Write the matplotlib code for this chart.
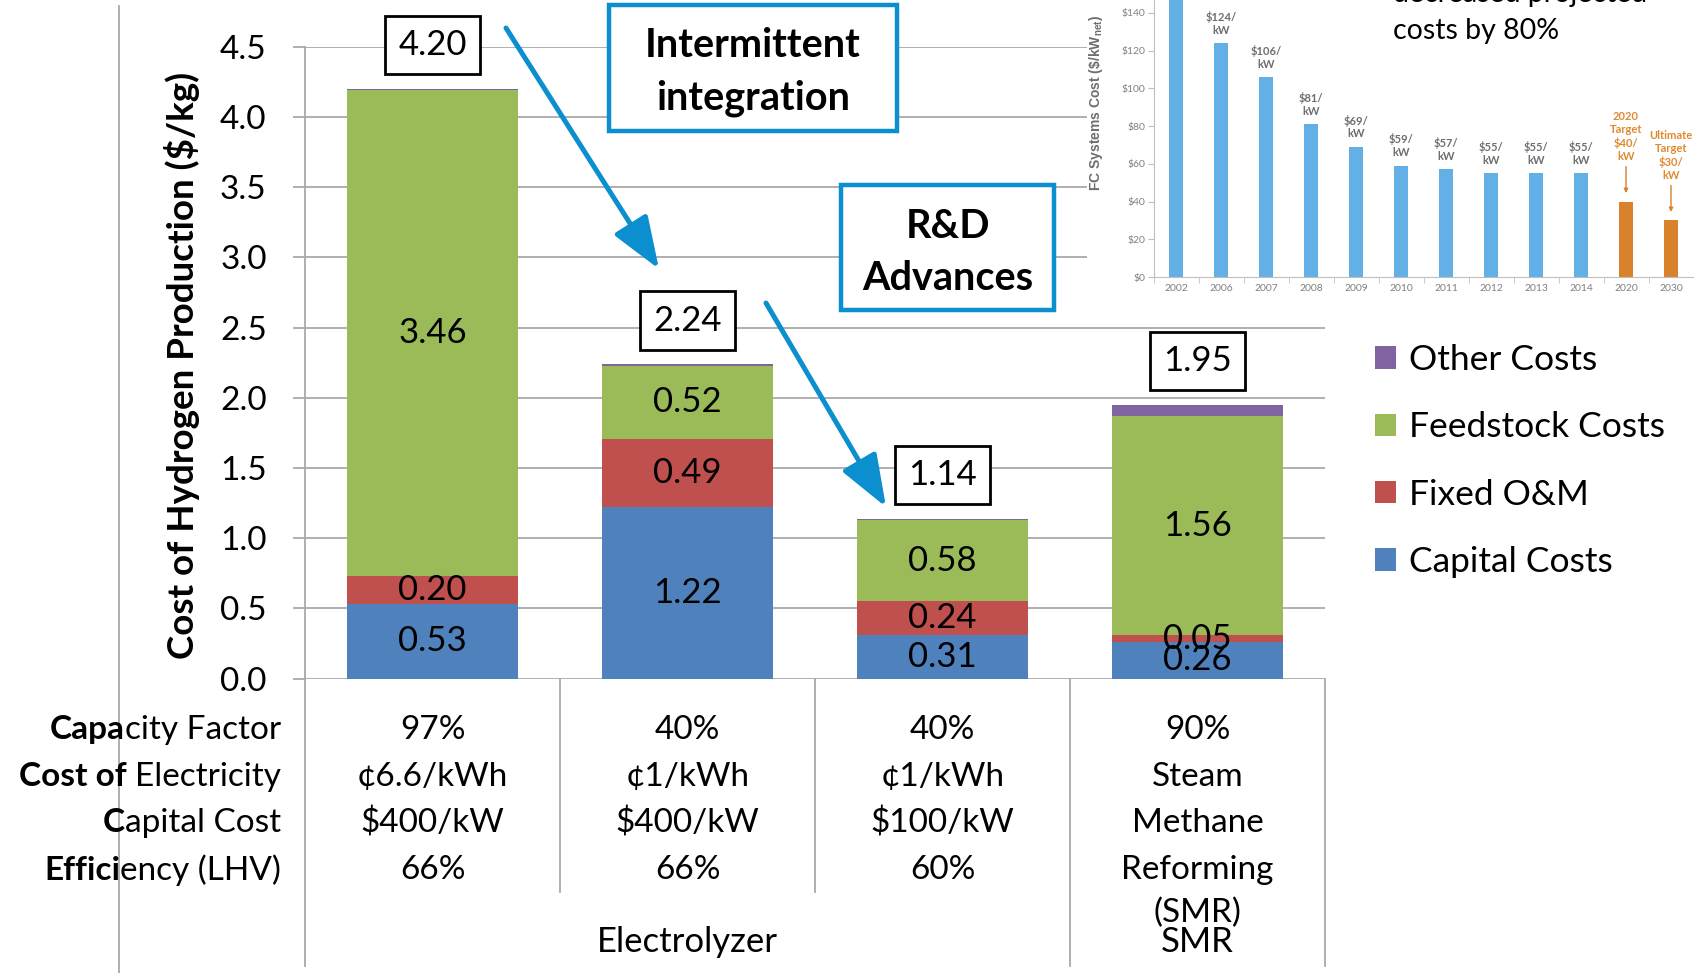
import matplotlib
matplotlib.use('Agg')
import matplotlib.pyplot as plt
from matplotlib.patches import Rectangle, FancyArrowPatch
from matplotlib.transforms import blended_transform_factory
import numpy as np

# main chart data ($/kg)
categories = ['Electrolyzer A', 'Electrolyzer B', 'Electrolyzer C', 'SMR']
capital_costs = [0.53, 1.22, 0.31, 0.26]
fixed_om = [0.20, 0.49, 0.24, 0.05]
feedstock_costs = [3.46, 0.52, 0.58, 1.56]
other_costs = [0.01, 0.01, 0.01, 0.08]
totals = [4.20, 2.24, 1.14, 1.95]

series_names = ['Capital Costs', 'Fixed O&M', 'Feedstock Costs', 'Other Costs']
series_colors = ['#4F81BD', '#C0504D', '#9BBB59', '#8064A2']

# table under the chart: (bold part, regular part)
row_labels = [('Capa', 'city Factor'), ('Cost of ', 'Electricity'),
              ('C', 'apital Cost'), ('Effici', 'ency (LHV)')]
column_values = [['97%', '¢6.6/kWh', '$400/kW', '66%'],
                 ['40%', '¢1/kWh', '$400/kW', '66%'],
                 ['40%', '¢1/kWh', '$100/kW', '60%'],
                 ['90%', 'Steam', 'Methane', 'Reforming', '(SMR)']]
group_labels = ['Electrolyzer', 'SMR']
group_centers = [1.0, 3.0]

# inset: fuel cell system cost ($/kW)
fc_years = ['2002', '2006', '2007', '2008', '2009', '2010', '2011', '2012',
            '2013', '2014', '2020', '2030']
fc_costs = [275, 124, 106, 81, 69, 59, 57, 55, 55, 55, 40, 30]
fc_labels = ['', '$124/\nkW', '$106/\nkW', '$81/\nkW', '$69/\nkW', '$59/\nkW',
             '$57/\nkW', '$55/\nkW', '$55/\nkW', '$55/\nkW',
             '2020\nTarget\n$40/\nkW', 'Ultimate\nTarget\n$30/\nkW']
fc_is_target = [False] * 10 + [True, True]

W, H = 1694, 973
BLUE = '#0B8FCF'
GRID = '#A9A9A9'
FS = 24


def fx(x):
    return x / W


def fy(y):
    return 1 - y / H


plt.rcParams['font.family'] = ['Lato', 'DejaVu Sans']

fig = plt.figure(figsize=(W / 100, H / 100), dpi=100)
ax = fig.add_axes([fx(305), fy(678.7), (1325 - 305) / W, (678.7 - 46.7) / H])

x = np.arange(len(categories))
bar_w = 0.667
stack = [capital_costs, fixed_om, feedstock_costs, other_costs]
bottom = np.zeros(len(x))
handles = []
for vals, name, col in zip(stack, series_names, series_colors):
    b = ax.bar(x, vals, bar_w, bottom=bottom, color=col, label=name, zorder=2)
    handles.append(b)
    if name != 'Other Costs':
        for xi, v, b0 in zip(x, vals, bottom):
            ax.text(xi, b0 + v / 2, f'{v:.2f}', ha='center', va='center',
                    fontsize=25, zorder=3)
    bottom = bottom + np.array(vals)

for xi, t in zip(x, totals):
    ax.text(xi, t + 0.31, f'{t:.2f}', ha='center', va='center', fontsize=25,
            zorder=4, bbox=dict(boxstyle='square,pad=0.38', fc='white',
                                ec='black', lw=2))

ax.set_xlim(-0.5, 3.5)
ax.set_ylim(0, 4.5)
ax.set_yticks(np.arange(0, 4.51, 0.5))
ax.set_yticklabels([f'{v:.1f}' for v in np.arange(0, 4.51, 0.5)])
ax.set_xticks([])
ax.yaxis.grid(True, color=GRID, lw=1.3)
ax.set_axisbelow(True)
for s in ['top', 'right', 'bottom']:
    ax.spines[s].set_visible(False)
ax.spines['left'].set_color(GRID)
ax.spines['left'].set_linewidth(1.3)
ax.tick_params(axis='y', length=8.6, width=1.3, color=GRID, labelsize=FS, pad=19)

fig.text(fx(182), fy(365), 'Cost of Hydrogen Production ($/kg)', rotation=90,
         ha='center', va='center', fontsize=26.5, fontweight='bold')

# legend (reverse order, Other Costs on top)
ax.legend(handles[::-1], series_names[::-1], loc='center left',
          bbox_to_anchor=(fx(1375), fy(461)), bbox_transform=fig.transFigure,
          frameon=False, fontsize=25.5, handlelength=0.6, handleheight=0.6,
          handletextpad=0.35, labelspacing=1.0, borderpad=0, borderaxespad=0)

# category separators below the axis
bt = blended_transform_factory(ax.transData, fig.transFigure)
for xs, yend in zip([-0.5, 0.5, 1.5, 2.5, 3.5], [966, 892, 892, 966, 966]):
    ax.plot([xs, xs], [fy(678.7), fy(yend)], color=GRID, lw=1.3,
            transform=bt, clip_on=False)
fig.add_artist(plt.Line2D([fx(119), fx(119)], [fy(6), 0], color=GRID, lw=1.3))

row_y = [730, 777, 823, 870, 913]
fig.canvas.draw()
renderer = fig.canvas.get_renderer()
inv = fig.transFigure.inverted()
for (bold_part, reg_part), y in zip(row_labels, row_y):
    t = fig.text(fx(281), fy(y), reg_part, ha='right', va='center', fontsize=FS)
    bb = t.get_window_extent(renderer=renderer)
    x0 = inv.transform((bb.x0, 0))[0]
    fig.text(x0, fy(y), bold_part, ha='right', va='center', fontsize=FS,
             fontweight='bold')

for xi, vals in zip(x, column_values):
    for v, y in zip(vals, row_y):
        ax.text(xi, fy(y), v, ha='center', va='center', fontsize=FS,
                transform=bt)
for lab, xc in zip(group_labels, group_centers):
    ax.text(xc, fy(942), lab, ha='center', va='center', fontsize=FS + 1,
            transform=bt)

# call-out boxes and arrows
for (x0, y0, x1, y1), txt, ty in [((609, 5, 897, 131), 'Intermittent\nintegration', 72),
                                   ((841, 185, 1054, 310), 'R&D\nAdvances', 252)]:
    fig.add_artist(Rectangle((fx(x0), fy(y1)), (x1 - x0) / W, (y1 - y0) / H,
                             transform=fig.transFigure, fc='white', ec=BLUE,
                             lw=3.2, zorder=5))
    fig.text(fx((x0 + x1) / 2), fy(ty), txt, ha='center', va='center',
             fontsize=28.5, fontweight='bold', linespacing=1.5, zorder=6)

for (xa, ya), (xb, yb) in [((506, 28), (659, 269)), ((766, 303), (886, 507))]:
    fig.add_artist(FancyArrowPatch((fx(xa), fy(ya)), (fx(xb), fy(yb)),
                                   transform=fig.transFigure,
                                   arrowstyle='-|>,head_length=1.6,head_width=0.6',
                                   mutation_scale=20, color=BLUE, lw=3.6,
                                   shrinkA=0, shrinkB=0, zorder=6))

# inset picture area
fig.add_artist(Rectangle((fx(1087), fy(300)), (W - 1087) / W, 300 / H,
                         transform=fig.transFigure, fc='white', ec='none',
                         zorder=1))
ins = fig.add_axes([fx(1153.5), fy(277), 540 / W, 282.9 / H], zorder=2)
xi_fc = np.arange(len(fc_years))
fc_colors = ['#D9822B' if t else '#62B0E5' for t in fc_is_target]
ins.bar(xi_fc, fc_costs, 0.33, color=fc_colors)
ins.set_xlim(-0.5, len(fc_years) - 0.5)
ins.set_ylim(0, 150)
ins.set_yticks(np.arange(0, 141, 20))
ins.set_yticklabels([f'${v}' for v in range(0, 141, 20)])
ins.set_xticks(xi_fc)
ins.set_xticklabels(fc_years)
ins.set_xticks(np.arange(-0.5, len(fc_years)), minor=True)
ins.tick_params(axis='x', which='major', length=0, labelsize=7.5,
                labelcolor='#808080', pad=5)
ins.tick_params(axis='x', which='minor', length=4, color='#BFBFBF')
ins.tick_params(axis='y', length=4, color='#BFBFBF', labelsize=7.5,
                labelcolor='#808080', pad=2)
for s in ['top', 'right']:
    ins.spines[s].set_visible(False)
for s in ['left', 'bottom']:
    ins.spines[s].set_color('#BFBFBF')
ins.set_facecolor('none')
for xi_, v, lab, tgt in zip(xi_fc, fc_costs, fc_labels, fc_is_target):
    if not lab:
        continue
    if tgt:
        ins.annotate('', xy=(xi_, v + 3), xytext=(xi_, v + 20),
                     arrowprops=dict(arrowstyle='-|>', color='#D9822B', lw=1,
                                     mutation_scale=6))
        ins.text(xi_, v + 21, lab, ha='center', va='bottom', fontsize=8,
                 fontweight='bold', color='#E08A30', linespacing=1.2)
    else:
        ins.text(xi_, v + 4, lab, ha='center', va='bottom', fontsize=8,
                 fontweight='bold', color='#6E6E6E', linespacing=1.2)
fig.text(fx(1096), fy(103), r'FC Systems Cost (\$/kW$_{\mathregular{net}}$)',
         rotation=90, ha='center', va='center', fontsize=10, fontweight='bold',
         color='#6E6E6E', family=['Liberation Sans', 'DejaVu Sans'], zorder=3)

fig.text(fx(1393), fy(2), 'decreased projected', ha='left', va='baseline',
         fontsize=20.5, zorder=3)
fig.text(fx(1393), fy(39), 'costs by 80%', ha='left', va='baseline',
         fontsize=20.5, zorder=3)

fig.savefig('out.png', dpi=100)
